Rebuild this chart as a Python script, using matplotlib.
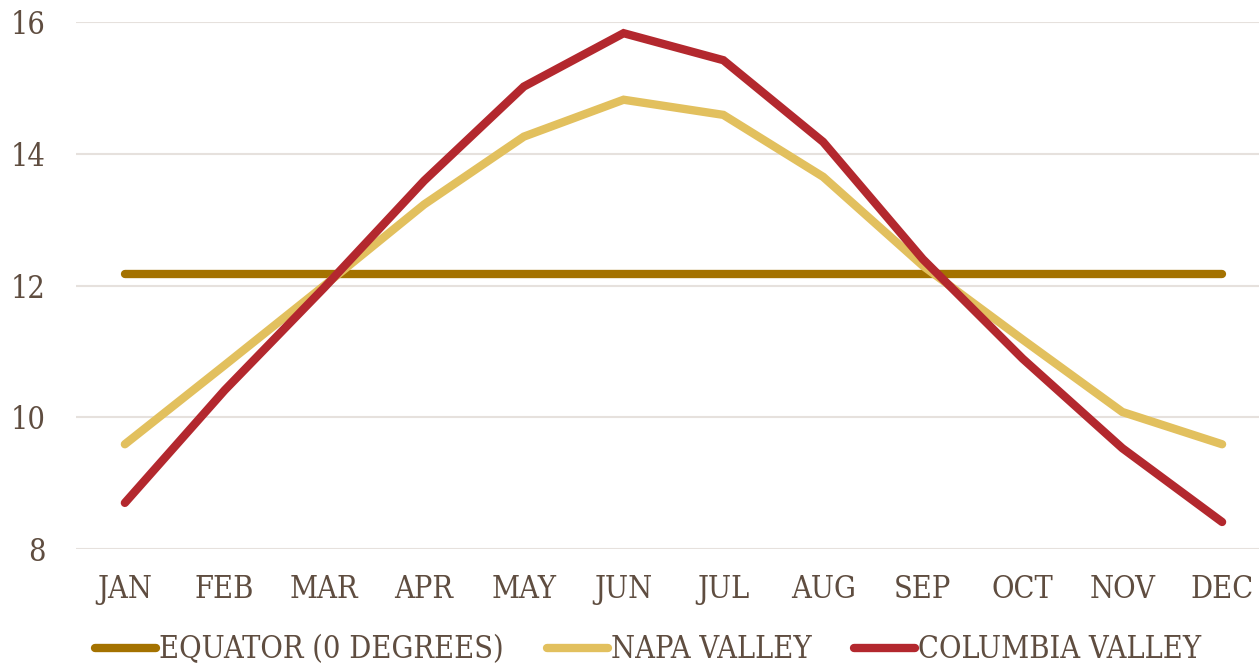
import numpy as np
import matplotlib
matplotlib.use("Agg")
import matplotlib.pyplot as plt

months = ["JAN", "FEB", "MAR", "APR", "MAY", "JUN",
          "JUL", "AUG", "SEP", "OCT", "NOV", "DEC"]
equator = [12.17] * 12
napa = [9.59, 10.79, 12.0, 13.23, 14.26, 14.82, 14.59, 13.65, 12.3, 11.18, 10.08, 9.59]
columbia = [8.70, 10.41, 11.97, 13.59, 15.02, 15.83, 15.42, 14.18, 12.4, 10.89, 9.53, 8.41]

TEXT = "#5f4d40"
GRID = "#e6e1dd"
C_EQ = "#a47200"
C_NAPA = "#e2c05e"
C_COL = "#b3282e"

plt.rcParams["font.family"] = ["DejaVu Serif"]

fig = plt.figure(figsize=(12.59, 6.68), dpi=100)
ax = fig.add_axes([76 / 1259, 119 / 668, 1 - 76 / 1259, 527 / 668])
x = np.arange(len(months))

lw = 6
ax.plot(x, equator, color=C_EQ, lw=lw, solid_capstyle="round", solid_joinstyle="miter",
        label="EQUATOR (0 DEGREES)", zorder=3)
ax.plot(x, napa, color=C_NAPA, lw=lw, solid_capstyle="round", solid_joinstyle="miter",
        label="NAPA VALLEY", zorder=4)
ax.plot(x, columbia, color=C_COL, lw=lw, solid_capstyle="round", solid_joinstyle="miter",
        label="COLUMBIA VALLEY", zorder=5)

ax.set_xlim(-0.49, 11.37)
ax.set_ylim(8, 16)
ax.set_yticks([8, 10, 12, 14, 16])
ax.set_xticks(x)
ax.set_xticklabels(months, fontstretch="condensed")
ax.yaxis.grid(True, color=GRID, lw=1.5, zorder=0)
ax.set_axisbelow(True)
for s in ax.spines.values():
    s.set_visible(False)
ax.tick_params(length=0, colors=TEXT, labelsize=22)
ax.tick_params(axis="x", pad=18)
ax.tick_params(axis="y", pad=22)
for lab in ax.get_yticklabels():
    lab.set_fontstretch("condensed")

leg = fig.legend(loc="center", bbox_to_anchor=(0.515, 0.027), ncol=3, frameon=False,
                 handlelength=2.0, handletextpad=0.1, columnspacing=1.4,
                 prop={"size": 22, "stretch": "condensed"})
for t in leg.get_texts():
    t.set_color(TEXT)

fig.savefig("out.png", dpi=100)
